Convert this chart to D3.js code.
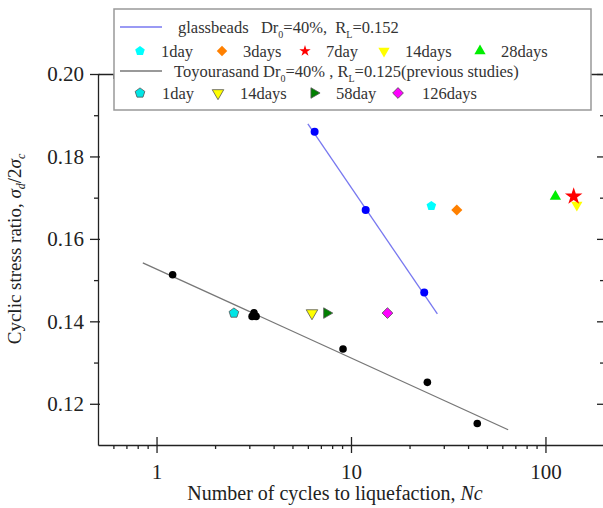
<!DOCTYPE html>
<html>
<head>
<meta charset="utf-8">
<script src="https://cdn.jsdelivr.net/npm/d3@7"></script>
<style>
body { margin: 0; background: #fff; }
text { font-family: "Liberation Serif", "Times New Roman", serif; }
</style>
</head>
<body>
<div id="chart"></div>
<script>
// glass beads Dr0=40% (blue dots + fitted line)
var glassN = [6.5, 11.9, 23.8];
var glassCSR = [0.186, 0.167, 0.147];
var glassFitN = [6.0, 27.8];
var glassFitCSR = [0.1879, 0.1418];

// cured glass beads
var glassAgeLabels = ["1day", "3days", "7day", "14days", "28days"];
var glassAgeN = [25.9, 35.0, 139.7, 145, 112.5];
var glassAgeCSR = [0.168, 0.167, 0.1703, 0.1682, 0.1703];

// Toyoura sand (previous studies)
var toyN = [1.21, 3.1, 3.25, 3.17, 9.1, 24.7, 44.6];
var toyCSR = [0.1513, 0.1412, 0.1412, 0.1421, 0.1333, 0.1252, 0.1152];
var toyFitN = [0.85, 64.3];
var toyFitCSR = [0.1542, 0.1137];

var toyAgeLabels = ["1day", "14days", "58day", "126days"];
var toyAgeN = [2.5, 6.3, 7.5, 15.4];
var toyAgeCSR = [0.142, 0.142, 0.142, 0.142];

var xMajor = [1, 10, 100];
var xMinor = [0.6, 0.7, 0.8, 0.9, 2, 3, 4, 5, 6, 7, 8, 9, 20, 30, 40, 50, 60, 70, 80, 90];
var yMajor = [0.12, 0.14, 0.16, 0.18, 0.20];
var yMinor = [0.13, 0.15, 0.17, 0.19];

var margin = {top: 74, left: 98},
    width = 506,
    height = 371;

var svg = d3.select("#chart").append("svg")
    .attr("width", 603)
    .attr("height", 508);

var g = svg.append("g")
    .attr("transform", "translate(" + margin.left + "," + margin.top + ")");

var x = d3.scaleLog().domain([0.5, 200]).range([0, width]);
var y = d3.scaleLinear().domain([0.11, 0.20]).range([height, 0]);

var axisColor = "#222";

// pentagon symbol
var symbolPentagon = {
    draw: function(ctx, size) {
        var r = Math.sqrt(size / 2.3776);
        for (var i = 0; i < 5; i++) {
            var a = -Math.PI / 2 + i * 2 * Math.PI / 5;
            if (i === 0) ctx.moveTo(r * Math.cos(a), r * Math.sin(a));
            else ctx.lineTo(r * Math.cos(a), r * Math.sin(a));
        }
        ctx.closePath();
    }
};

var glassStyle = [
    {type: symbolPentagon, rot: 0, fill: "#00ffff", size: 60, lsize: 60},
    {type: d3.symbolSquare, rot: 45, fill: "#ff8000", size: 62, lsize: 55},
    {type: d3.symbolStar, rot: 0, fill: "#ff0000", size: 95, lsize: 40},
    {type: d3.symbolTriangle, rot: 180, fill: "#ffff00", size: 55, lsize: 55},
    {type: d3.symbolTriangle, rot: 0, fill: "#00ee00", size: 55, lsize: 55}
];
var toyStyle = [
    {type: symbolPentagon, rot: 0, fill: "#00e5e5", size: 62},
    {type: d3.symbolTriangle, rot: 180, fill: "#ffff00", size: 58},
    {type: d3.symbolTriangle, rot: 90, fill: "#007f00", size: 48},
    {type: d3.symbolSquare, rot: 45, fill: "#ff00ff", size: 58}
];

function marker(sel, st, size, cx, cy, stroke) {
    sel.append("path")
        .attr("d", d3.symbol().type(st.type).size(size)())
        .attr("transform", "translate(" + cx + "," + cy + ") rotate(" + st.rot + ")")
        .attr("fill", st.fill)
        .attr("stroke", stroke || "none")
        .attr("stroke-width", 0.8);
}

// fitted lines
var line = d3.line().x(d => x(d[0])).y(d => y(d[1]));
g.append("path")
    .datum(d3.zip(toyFitN, toyFitCSR))
    .attr("d", line)
    .attr("fill", "none")
    .attr("stroke", "#777")
    .attr("stroke-width", 1.3);
g.append("path")
    .datum(d3.zip(glassFitN, glassFitCSR))
    .attr("d", line)
    .attr("fill", "none")
    .attr("stroke", "#7878f0")
    .attr("stroke-width", 1.3);

// points
g.selectAll(".toy")
    .data(d3.zip(toyN, toyCSR))
    .enter().append("circle")
    .attr("cx", d => x(d[0]))
    .attr("cy", d => y(d[1]))
    .attr("r", 3.8)
    .attr("fill", "#000");

g.selectAll(".glass")
    .data(d3.zip(glassN, glassCSR))
    .enter().append("circle")
    .attr("cx", d => x(d[0]))
    .attr("cy", d => y(d[1]))
    .attr("r", 4)
    .attr("fill", "#0000ff");

toyAgeN.forEach(function(n, i) {
    marker(g, toyStyle[i], toyStyle[i].size, x(n), y(toyAgeCSR[i]), "#555");
});
[0, 1, 3, 4, 2].forEach(function(i) {
    marker(g, glassStyle[i], glassStyle[i].size, x(glassAgeN[i]), y(glassAgeCSR[i]));
});

// axes
function styleAxis(ax) {
    ax.attr("font-family", null);
    ax.selectAll("path, line").attr("stroke", axisColor).attr("stroke-width", 1.3);
    ax.selectAll("text").attr("fill", "#222").style("font-size", "21px")
        .style("font-family", "'Liberation Serif', serif");
}

var xAx = g.append("g")
    .attr("transform", "translate(0," + height + ")")
    .call(d3.axisBottom(x).tickValues(xMajor).tickFormat(d3.format("d")).tickSize(8).tickSizeOuter(0));
xAx.selectAll(".tick line").attr("y1", -8);
xAx.selectAll(".tick text").attr("dy", 0).attr("y", 34);
styleAxis(xAx);

var xAxMinor = g.append("g")
    .attr("transform", "translate(0," + height + ")")
    .call(d3.axisBottom(x).tickValues(xMinor).tickFormat("").tickSize(4));
xAxMinor.select(".domain").remove();
styleAxis(xAxMinor);

var xTop = g.append("g")
    .call(d3.axisBottom(x).tickValues(xMajor.concat(xMinor)).tickFormat("").tickSize(5).tickSizeOuter(0));
styleAxis(xTop);

var yAx = g.append("g")
    .call(d3.axisLeft(y).tickValues(yMajor).tickFormat(d3.format(".2f")).tickSize(8).tickSizeOuter(0).tickPadding(6));
yAx.selectAll(".tick line").attr("x1", 2);
styleAxis(yAx);

var yAxMinor = g.append("g")
    .call(d3.axisLeft(y).tickValues(yMinor).tickFormat("").tickSize(4));
yAxMinor.select(".domain").remove();
styleAxis(yAxMinor);

var yRight = g.append("g")
    .attr("transform", "translate(" + width + ",0)")
    .call(d3.axisLeft(y).tickValues(yMajor).tickFormat("").tickSize(7).tickSizeOuter(0));
styleAxis(yRight);
var yRightMinor = g.append("g")
    .attr("transform", "translate(" + width + ",0)")
    .call(d3.axisLeft(y).tickValues(yMinor).tickFormat("").tickSize(4));
yRightMinor.select(".domain").remove();
styleAxis(yRightMinor);

// axis titles
var xl = svg.append("text")
    .attr("x", 335)
    .attr("y", 500)
    .style("text-anchor", "middle")
    .style("font-size", "20px")
    .attr("fill", "#222");
xl.append("tspan").text("Number of cycles to liquefaction, ");
xl.append("tspan").style("font-style", "italic").text("Nc");

var yl = svg.append("text")
    .attr("transform", "translate(21,249) rotate(-90)")
    .style("text-anchor", "middle")
    .style("font-size", "19px")
    .attr("fill", "#222");
yl.append("tspan").text("Cyclic stress ratio, ");
yl.append("tspan").style("font-style", "italic").text("σ");
yl.append("tspan").style("font-style", "italic").style("font-size", "12px").attr("dy", 4).text("d");
yl.append("tspan").attr("dy", -4).text("/2");
yl.append("tspan").style("font-style", "italic").text("σ");
yl.append("tspan").style("font-style", "italic").style("font-size", "12px").attr("dy", 4).text("c");

// legend
var lg = svg.append("g");
lg.append("rect")
    .attr("x", 114).attr("y", 9)
    .attr("width", 477).attr("height", 101)
    .attr("fill", "#fff")
    .attr("stroke", "#999")
    .attr("stroke-width", 1.5);

var legendFont = "16.5px", legendColor = "#333";

function legendTitle(yy, color, parts, tx) {
    lg.append("line")
        .attr("x1", 120).attr("x2", 162)
        .attr("y1", yy).attr("y2", yy)
        .attr("stroke", color).attr("stroke-width", 1.3);
    var t = lg.append("text")
        .attr("x", tx).attr("y", yy + 6)
        .style("font-size", legendFont)
        .style("white-space", "pre")
        .attr("fill", legendColor);
    var down = false;
    parts.forEach(function(p) {
        var s = t.append("tspan").text(p);
        if (down) { s.attr("dy", -5); down = false; }
        if (p === "0" || p === "L") {
            s.style("font-size", "10px").attr("dy", 5);
            down = true;
        }
    });
}

legendTitle(27, "#7878f0",
    ["glassbeads   Dr", "0", "=40%,  R", "L", "=0.152"], 178);
legendTitle(71, "#777",
    ["Toyourasand Dr", "0", "=40% , R", "L", "=0.125(previous studies)"], 174);

var glassLegX = [140, 222, 305, 384, 480];
glassAgeLabels.forEach(function(lab, i) {
    marker(lg, glassStyle[i], glassStyle[i].lsize, glassLegX[i], 51);
    lg.append("text")
        .attr("x", glassLegX[i] + 21).attr("y", 57)
        .style("font-size", legendFont)
        .attr("fill", legendColor)
        .text(lab);
});

var toyLegX = [140, 218, 314, 398];
toyAgeLabels.forEach(function(lab, i) {
    marker(lg, toyStyle[i], toyStyle[i].size, toyLegX[i], 93, "#555");
    lg.append("text")
        .attr("x", toyLegX[i] + (i === 3 ? 24 : 22)).attr("y", 99)
        .style("font-size", legendFont)
        .attr("fill", legendColor)
        .text(lab);
});
</script>
</body>
</html>
